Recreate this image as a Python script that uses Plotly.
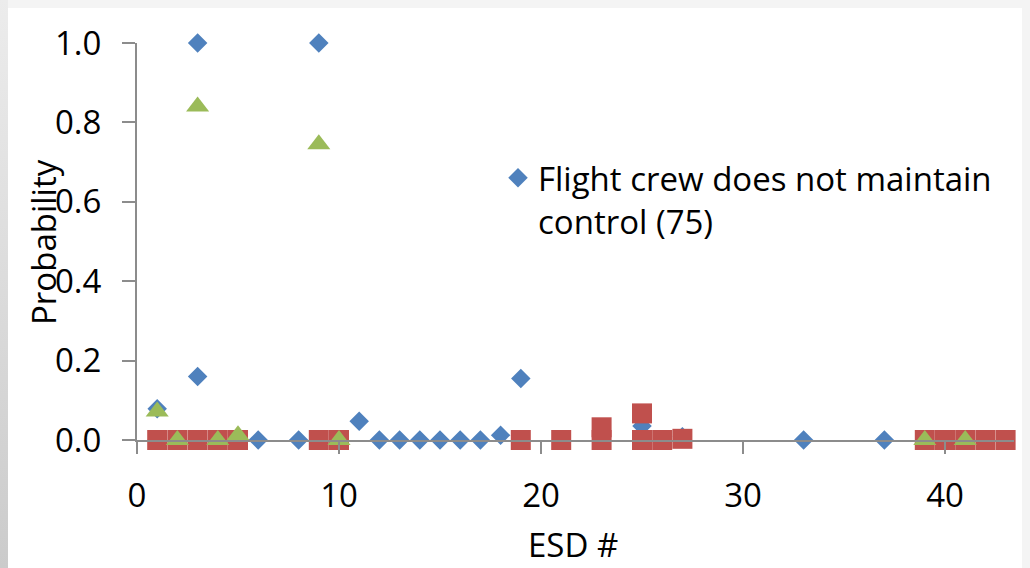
import plotly.graph_objects as go

# ---- data ----
blue_name = "Flight crew does not maintain<br>control (75)"
blue_x = [1, 1, 3, 3, 6, 8, 9, 11, 12, 13, 14, 15, 16, 17, 18, 19, 25, 27, 33, 37]
blue_y = [0.079, 0, 1.0, 0.16, 0, 0, 1.0, 0.047, 0, 0, 0, 0, 0, 0, 0.012, 0.155, 0.035, 0.008, 0, 0]

red_x = [1, 2, 3, 4, 5, 9, 10, 19, 21, 23, 23, 25, 25, 26, 27, 39, 40, 41, 42, 43]
red_y = [0, 0, 0, 0, 0, 0, 0, 0, 0, 0, 0.032, 0, 0.067, 0, 0.003, 0, 0, 0, 0, 0]

green_x = [1, 2, 3, 4, 5, 9, 10, 39, 41]
green_y = [0.072, 0, 0.84, 0, 0.012, 0.745, 0, 0, 0]

x_ticks = [0, 10, 20, 30, 40]
y_ticks = [0, 0.2, 0.4, 0.6, 0.8, 1.0]
x_title = "ESD #"
y_title = "Probability"

# ---- layout geometry (page pixels; the page body has an 8px margin) ----
OFF = 8
W, H = 1022, 560
PX0, PY0 = 137, 440          # page pixel of data origin
PW, PH = 877, 405
L, T = PX0 - OFF, 35 - OFF
R, B = W - L - PW, H - T - PH

def px2x(px):
    return (px - PX0) / PW

def py2y(py):
    return (PY0 - py) / PH

FONT = "Open Sans"
FS = 33
AXC = "#8c8c8c"

fig = go.Figure()
fig.add_trace(go.Scatter(x=blue_x, y=blue_y, mode="markers", name=blue_name,
                         marker=dict(symbol="diamond", size=15, color="#4F81BD"),
                         cliponaxis=False))
fig.add_trace(go.Scatter(x=red_x, y=red_y, mode="markers", showlegend=False,
                         marker=dict(symbol="square", size=20, color="#C0504D"),
                         cliponaxis=False))
fig.add_trace(go.Scatter(x=green_x, y=green_y, mode="markers", showlegend=False,
                         marker=dict(symbol="triangle-up", size=20, color="#9BBB59"),
                         cliponaxis=False))

fig.update_layout(
    width=W, height=H,
    margin=dict(l=L, r=R, t=T, b=B),
    paper_bgcolor="white", plot_bgcolor="white",
    font=dict(family=FONT, size=FS, color="black"),
    showlegend=True,
    legend=dict(x=px2x(498), y=py2y(144), xanchor="left", yanchor="top",
                bgcolor="rgba(0,0,0,0)", valign="top",
                font=dict(family=FONT, size=FS, color="black"),
                itemsizing="trace"),
    xaxis=dict(range=[0, PW / 20.2], tickvals=x_ticks, ticks="outside", ticklen=12,
               tickcolor=AXC, tickwidth=2, showline=True, linecolor=AXC, linewidth=2,
               showgrid=False, zeroline=False, ticklabelstandoff=13,
               tickfont=dict(family=FONT, size=FS)),
    yaxis=dict(range=[0, 1.0], tickvals=y_ticks, tickformat=".1f", ticks="outside",
               ticklen=13, tickcolor=AXC, tickwidth=2, showline=True, linecolor=AXC,
               linewidth=2, showgrid=False, zeroline=False, ticklabelstandoff=14,
               tickfont=dict(family=FONT, size=FS)),
    annotations=[
        dict(text=x_title, xref="paper", yref="paper", x=px2x(573), y=py2y(547),
             xanchor="center", yanchor="middle", showarrow=False,
             font=dict(family=FONT, size=FS)),
        dict(text=y_title, xref="paper", yref="paper", x=px2x(44), y=py2y(238),
             xanchor="center", yanchor="middle", showarrow=False, textangle=-90,
             font=dict(family=FONT, size=FS)),
    ],
)

# slide backdrop visible in the page margin (grey band on the left, light strip on top)
post = ("document.body.style.background = "
        "'linear-gradient(to bottom, #ececec, #cbcbcb) left top / 8px 568px no-repeat, #f4f4f4';")

fig.write_html("out.html", post_script=post)
